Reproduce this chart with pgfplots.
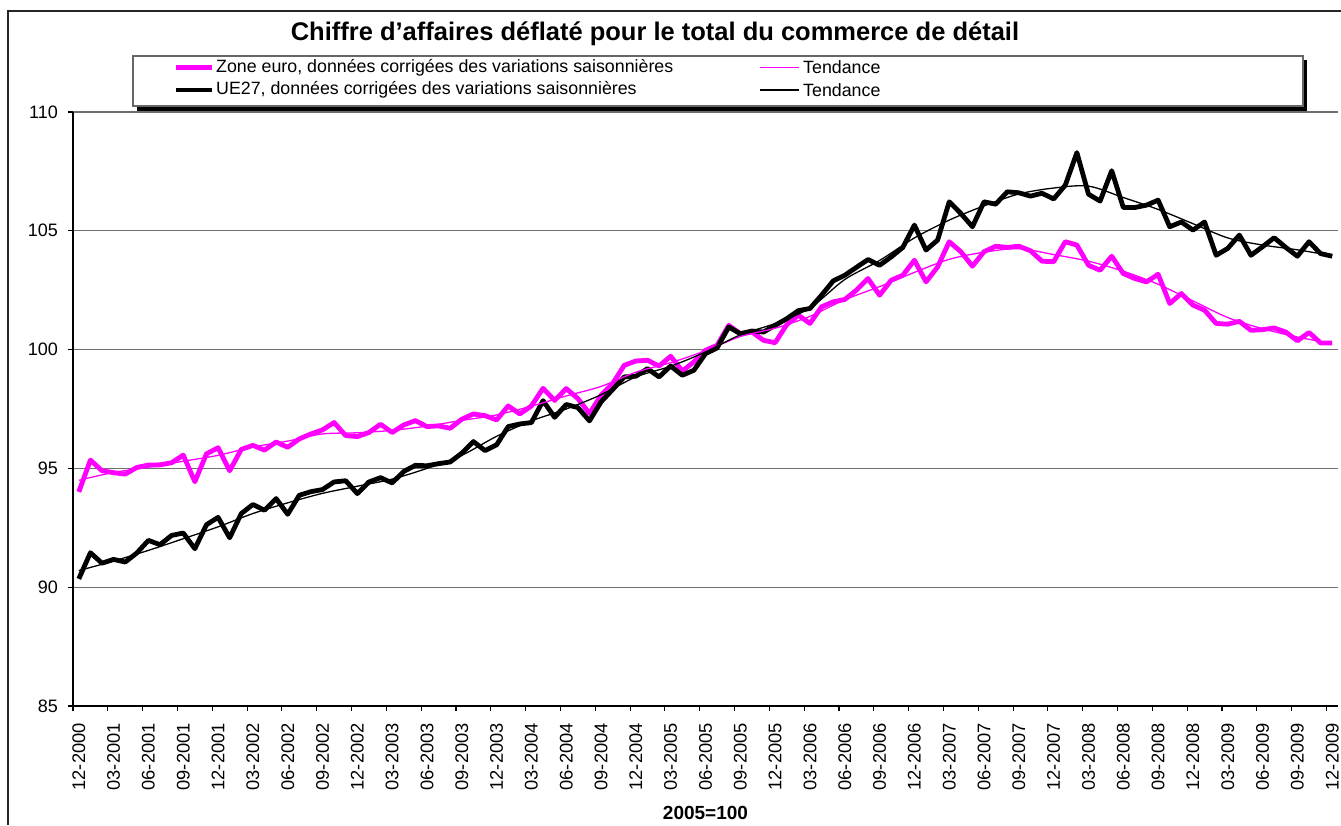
\documentclass[border=0pt]{standalone}
\usepackage{fontspec}
\setmainfont{Liberation Sans}
\usepackage{pgfplots}
\usepackage{pgfplotstable}
\pgfplotsset{compat=1.18}
\definecolor{ezpink}{RGB}{255,0,255}
\definecolor{gridgray}{RGB}{110,110,110}

\pgfplotstableread{
i ez eu
0 94.01 90.35
1 95.35 91.45
2 94.90 91.01
3 94.82 91.17
4 94.76 91.06
5 95.04 91.44
6 95.14 91.97
7 95.15 91.79
8 95.24 92.18
9 95.56 92.28
10 94.44 91.62
11 95.61 92.63
12 95.87 92.94
13 94.90 92.08
14 95.80 93.10
15 95.97 93.48
16 95.77 93.24
17 96.11 93.73
18 95.89 93.07
19 96.24 93.87
20 96.45 94.02
21 96.62 94.11
22 96.93 94.43
23 96.38 94.48
24 96.34 93.94
25 96.51 94.43
26 96.86 94.61
27 96.51 94.39
28 96.83 94.87
29 97.01 95.13
30 96.76 95.11
31 96.79 95.20
32 96.69 95.27
33 97.07 95.64
34 97.29 96.13
35 97.22 95.75
36 97.04 95.99
37 97.63 96.76
38 97.29 96.87
39 97.63 96.93
40 98.37 97.85
41 97.86 97.15
42 98.36 97.69
43 97.94 97.56
44 97.31 97.00
45 98.08 97.80
46 98.57 98.32
47 99.34 98.85
48 99.52 98.88
49 99.55 99.20
50 99.31 98.85
51 99.72 99.31
52 99.10 98.92
53 99.48 99.13
54 99.97 99.83
55 100.18 100.07
56 101.02 100.95
57 100.67 100.67
58 100.74 100.78
59 100.39 100.74
60 100.29 101.02
61 101.05 101.30
62 101.45 101.64
63 101.10 101.73
64 101.80 102.29
65 102.01 102.89
66 102.11 103.13
67 102.50 103.46
68 102.99 103.79
69 102.29 103.55
70 102.92 103.90
71 103.13 104.30
72 103.76 105.24
73 102.85 104.19
74 103.48 104.61
75 104.54 106.22
76 104.12 105.73
77 103.51 105.17
78 104.12 106.22
79 104.35 106.12
80 104.30 106.64
81 104.35 106.60
82 104.16 106.46
83 103.72 106.58
84 103.70 106.34
85 104.54 106.92
86 104.40 108.29
87 103.55 106.54
88 103.34 106.25
89 103.93 107.53
90 103.20 105.98
91 102.99 105.98
92 102.85 106.08
93 103.17 106.29
94 101.94 105.17
95 102.36 105.37
96 101.87 105.03
97 101.66 105.37
98 101.10 103.97
99 101.07 104.26
100 101.19 104.82
101 100.81 103.97
102 100.84 104.33
103 100.91 104.71
104 100.74 104.30
105 100.37 103.93
106 100.72 104.54
107 100.28 104.04
108 100.28 103.93
}\datatable

\pgfplotstableread{
i ezt eut
0 94.50 90.70
3 94.83 91.10
6 95.05 91.55
9 95.30 92.04
12 95.55 92.54
15 95.90 93.10
18 96.15 93.55
21 96.45 93.95
24 96.50 94.25
27 96.60 94.55
30 96.78 95.00
33 97.02 95.55
36 97.25 96.35
39 97.62 97.00
42 98.05 97.50
45 98.45 98.10
48 99.05 98.85
51 99.45 99.30
54 99.95 99.90
57 100.55 100.62
60 100.90 101.10
63 101.40 101.75
66 102.10 102.95
69 102.65 103.75
72 103.25 104.70
75 103.80 105.45
78 104.10 106.05
81 104.25 106.55
84 104.00 106.80
87 103.72 106.88
90 103.30 106.40
93 102.75 105.90
96 102.05 105.30
99 101.35 104.70
102 100.88 104.40
105 100.53 104.20
108 100.25 103.95
}\trendtable

\begin{document}
\begin{tikzpicture}[x=1pt,y=1pt]
\useasboundingbox (0,0) rectangle (1341,825);
% outer chart frame (left and top edges visible)
\draw[line width=1.3pt, black!85] (8,0) -- (8,814) -- (1341,814);
% title
\node[anchor=base, font=\fontsize{25.5}{30}\selectfont\bfseries] at (655,784)
  {Chiffre d'affaires déflaté pour le total du commerce de détail};

\begin{axis}[
  at={(73pt,119pt)}, anchor=south west,
  scale only axis, width=1265pt, height=594pt,
  xmin=-0.5, xmax=108.5, ymin=85, ymax=110,
  axis x line*=bottom, axis y line*=left,
  axis line style={line width=1.3pt, black},
  ytick={85,90,...,110},
  ymajorgrids, grid style={line width=1.3pt, gridgray},
  tick align=outside,
  major tick length=5pt,
  tick style={line width=1.1pt, black},
  /pgf/number format/assume math mode=true,
  yticklabel style={font=\fontsize{18}{21}\selectfont, inner sep=0pt, xshift=-10pt},
  xtick={-0.5,2.5,...,107.5},
  xticklabels={},
  extra x ticks={0,3,...,108},
  extra x tick labels={12-2000,03-2001,06-2001,09-2001,12-2001,03-2002,06-2002,09-2002,12-2002,03-2003,06-2003,09-2003,12-2003,03-2004,06-2004,09-2004,12-2004,03-2005,06-2005,09-2005,12-2005,03-2006,06-2006,09-2006,12-2006,03-2007,06-2007,09-2007,12-2007,03-2008,06-2008,09-2008,12-2008,03-2009,06-2009,09-2009,12-2009},
  extra x tick style={major tick length=0pt,
     xticklabel style={yshift=-17pt, rotate=90, anchor=east, inner sep=0pt,
                       font=\fontsize{18.3}{21}\selectfont}},
  xlabel={\textbf{2005=100}},
  xlabel style={font=\fontsize{19}{22}\selectfont, at={(0.5,0)}, anchor=base, yshift=-113.5pt},
]
\addplot[ezpink, line width=4.8pt, line join=round] table[x=i, y=ez] {\datatable};
\addplot[black, line width=4.8pt, line join=round] table[x=i, y=eu] {\datatable};
\addplot[ezpink, line width=1.3pt, smooth] table[x=i, y=ezt] {\trendtable};
\addplot[black, line width=1.3pt, smooth] table[x=i, y=eut] {\trendtable};
\end{axis}

% legend (drawn as in the reference: boxed, with a black shadow)
\fill[black] (137,714) rectangle (1307,765);
\filldraw[fill=white, draw=black!60, line width=1.2pt] (133,719) rectangle (1303,769);
\begin{scope}[font=\fontsize{17.8}{21}\selectfont]
\draw[ezpink, line width=4.8pt] (176,757.5) -- (212,757.5);
\node[anchor=west, inner sep=0pt] at (216,757.5) {Zone euro, données corrigées des variations saisonnières};
\draw[black, line width=4.8pt] (176,735) -- (212,735);
\node[anchor=west, inner sep=0pt] at (216,735) {UE27, données corrigées des variations saisonnières};
\draw[ezpink, line width=1.3pt] (760,757.5) -- (799,757.5);
\node[anchor=west, inner sep=0pt] at (803,757.5) {Tendance};
\draw[black, line width=1.3pt] (760,735) -- (799,735);
\node[anchor=west, inner sep=0pt] at (803,735) {Tendance};
\end{scope}
\end{tikzpicture}
\end{document}
